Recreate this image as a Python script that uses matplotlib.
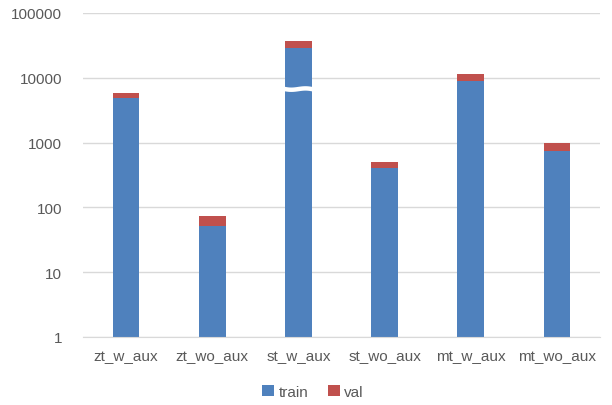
import matplotlib
matplotlib.use("Agg")
import matplotlib.pyplot as plt
import numpy as np

categories = ["zt_w_aux", "zt_wo_aux", "st_w_aux", "st_wo_aux", "mt_w_aux", "mt_wo_aux"]
train = [4830, 52, 28800, 400, 9000, 750]
val = [940, 21, 7800, 102, 2450, 236]
yticks = [1, 10, 100, 1000, 10000, 100000]
ytick_labels = ["1", "10", "100", "1000", "10000", "100000"]
break_category = "st_w_aux"
break_value = 6700

plt.rcParams['font.family'] = ['Liberation Sans', 'DejaVu Sans']

fig = plt.figure(figsize=(6.12, 4.06), dpi=100)
ax = fig.add_axes([83/612, 1-338/406, (600-83)/612, (338-14)/406])

x = np.arange(len(categories))
w = 0.31
blue = "#4F81BD"
red = "#C0504D"
ax.bar(x, train, width=w, color=blue, label="train", zorder=2)
ax.bar(x, val, width=w, bottom=train, color=red, label="val", zorder=2)

ax.set_yscale("log")
ax.set_ylim(1, 100000)
ax.set_xlim(-0.5, len(categories) - 0.5)
ax.set_yticks(yticks)
ax.set_yticklabels(ytick_labels)
ax.yaxis.set_minor_locator(matplotlib.ticker.NullLocator())
ax.set_xticks(x)
ax.set_xticklabels(categories)
ax.grid(axis="y", color="#D9D9D9", linewidth=1, zorder=0)
for s in ax.spines.values():
    s.set_visible(False)
ax.spines["bottom"].set_visible(True)
ax.spines["bottom"].set_color("#D9D9D9")
ax.tick_params(axis="both", length=0, colors="#595959", labelsize=11)
ax.tick_params(axis="y", pad=15)
ax.tick_params(axis="x", pad=9)

# break mark
bi = categories.index(break_category)
t = np.linspace(-1, 1, 50)
xs = bi + t * (w / 2 + 0.03)
ys = break_value * 10 ** (0.014 * np.sin(np.pi * t) - 0.008 * t)
ax.plot(xs, ys, color="white", linewidth=3.2, zorder=3, solid_capstyle="butt")

leg = ax.legend(loc="upper center", bbox_to_anchor=(0.445, -0.105), ncol=2, frameon=False,
                fontsize=11, handlelength=0.75, handleheight=0.75, handletextpad=0.3,
                columnspacing=1.3)
for txt in leg.get_texts():
    txt.set_color("#595959")

fig.savefig("out.png", dpi=100)
